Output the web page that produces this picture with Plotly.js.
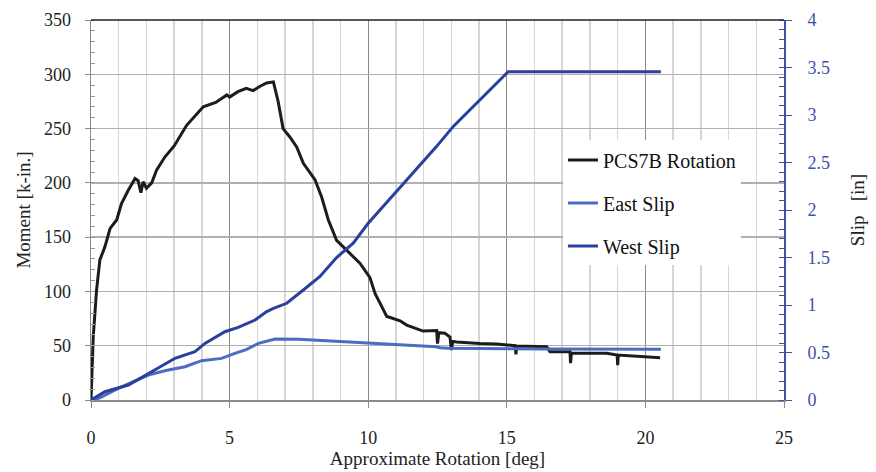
<!DOCTYPE html>
<html>
<head>
<meta charset="utf-8">
<script src="https://cdn.plot.ly/plotly-3.0.1.min.js"></script>
<style>html,body{margin:0;padding:0;background:#fff;}#chart{width:876px;height:472px;}</style>
</head>
<body>
<div id="chart"></div>
<script>
// PCS7B Rotation: moment [k-in.] vs approximate rotation [deg]
const rotX = [0, 0.08, 0.2, 0.32, 0.5, 0.69, 0.93, 1.1, 1.34, 1.59, 1.7, 1.8, 1.88, 2.0, 2.19, 2.37, 2.67, 3.0, 3.45, 4.05, 4.5, 4.9, 5.0, 5.3, 5.6, 5.85, 6.1, 6.34, 6.58, 6.75, 6.93, 7.18, 7.42, 7.66, 8.08, 8.32, 8.56, 8.86, 9.22, 9.7, 10.06, 10.25, 10.49, 10.67, 10.79, 11.15, 11.39, 11.62, 11.98, 12.47, 12.5, 12.55, 12.77, 12.95, 13.0, 13.05, 13.19, 14.03, 14.63, 15.3, 15.33, 15.36, 16.44, 16.56, 17.28, 17.3, 17.33, 17.88, 18.6, 18.98, 19.0, 19.02, 19.33, 20.53];
const rotMoment = [0, 58, 101, 129, 141, 158, 166, 181, 193, 204, 202, 191, 201, 195, 200, 212, 224, 234, 253, 270, 274, 281, 279, 284, 287, 285, 289, 292, 293, 275, 250, 242, 233, 218, 203, 187, 166, 147, 138, 126, 113, 98, 86, 77, 76, 73, 69, 67, 63.5, 64, 52, 62, 61.5, 58, 46, 54, 53.5, 52, 51.5, 50, 42, 49.7, 49, 44.5, 44.5, 34, 43, 43, 43, 41.5, 32, 41.4, 41, 39];

// East Slip [in]
const eastX = [0, 0.3, 0.98, 1.5, 2.07, 2.7, 3.39, 3.99, 4.71, 5.19, 5.6, 6.04, 6.64, 7.5, 8.44, 10.0, 10.43, 12.45, 12.6, 12.9, 16.4, 17.28, 17.4, 20.56];
const eastSlip = [0, 0.02, 0.123, 0.19, 0.263, 0.31, 0.35, 0.414, 0.438, 0.49, 0.53, 0.596, 0.642, 0.64, 0.624, 0.60, 0.597, 0.561, 0.55, 0.544, 0.537, 0.535, 0.533, 0.533];

// West Slip [in]
const westX = [0, 0.5, 1.35, 2.19, 3.03, 3.75, 4.11, 4.83, 5.31, 5.92, 6.34, 6.58, 7.06, 7.66, 8.26, 8.86, 9.46, 10.0, 10.79, 11.27, 12.47, 13.07, 14.03, 15.05, 20.56];
const westSlip = [0, 0.087, 0.158, 0.298, 0.439, 0.509, 0.596, 0.719, 0.765, 0.842, 0.93, 0.965, 1.018, 1.158, 1.30, 1.5, 1.65, 1.86, 2.12, 2.28, 2.67, 2.88, 3.16, 3.456, 3.456];

const seriesNames = ['PCS7B Rotation', 'East Slip', 'West Slip'];

const FONT = '"Liberation Serif", "Times New Roman", serif';
const BLUE_AX = '#3f51a8';

const traces = [
  {x: rotX, y: rotMoment, name: seriesNames[0], type: 'scatter', mode: 'lines', legendgroup: 'a',
   line: {color: '#1c1c1c', width: 3}, yaxis: 'y'},
  {x: eastX, y: eastSlip, name: seriesNames[1], type: 'scatter', mode: 'lines', legendgroup: 'b',
   line: {color: '#4b6cc1', width: 3}, yaxis: 'y2'},
  {x: westX, y: westSlip, name: seriesNames[2], type: 'scatter', mode: 'lines', legendgroup: 'c',
   line: {color: '#2b3f9c', width: 3}, yaxis: 'y2'}
];

const layout = {
  width: 876, height: 472,
  margin: {l: 91, r: 92, t: 20, b: 72},
  paper_bgcolor: '#ffffff', plot_bgcolor: '#ffffff',
  font: {family: FONT, size: 18, color: '#222'},
  showlegend: true,
  legend: {x: 0.681, y: 0.683, xanchor: 'left', yanchor: 'top', bgcolor: '#ffffff', borderwidth: 0,
           font: {family: FONT, size: 20, color: '#111'}, traceorder: 'grouped', tracegroupgap: 14},
  xaxis: {range: [0, 25], tick0: 0, dtick: 5, showgrid: true, gridcolor: '#8a8a8a', gridwidth: 1,
          minor: {dtick: 1, showgrid: true, gridcolor: '#d6d6d6', gridwidth: 1.5, ticks: ''},
          showline: true, linecolor: '#8a8a8a', linewidth: 1.5, ticks: 'outside', ticklen: 6, tickcolor: '#8a8a8a',
          zeroline: false, ticklabelstandoff: 15,
          tickfont: {family: FONT, size: 18, color: '#222'},
          title: {text: 'Approximate Rotation [deg]', font: {family: FONT, size: 19, color: '#222'}, standoff: 0}},
  yaxis: {range: [0, 350], tick0: 0, dtick: 50, showgrid: true, gridcolor: '#b0b0b0', gridwidth: 1.5,
          minor: {dtick: 10, ticks: 'inside', ticklen: 4, tickcolor: '#9a9a9a', showgrid: false},
          showline: true, linecolor: '#8a8a8a', linewidth: 1.5, ticks: 'outside', ticklen: 5, tickcolor: '#8a8a8a',
          zeroline: false, ticklabelstandoff: 10,
          tickfont: {family: FONT, size: 18, color: '#222'},
          title: {text: 'Moment [k-in.]', font: {family: FONT, size: 19, color: '#222'}, standoff: 8}},
  yaxis2: {range: [0, 4], tick0: 0, dtick: 0.5, overlaying: 'y', side: 'right', showgrid: false,
           minor: {dtick: 0.1, ticks: 'inside', ticklen: 5, tickcolor: BLUE_AX, showgrid: false},
           showline: true, linecolor: BLUE_AX, linewidth: 2, ticks: 'outside', ticklen: 6, tickcolor: BLUE_AX,
           zeroline: false, ticklabelstandoff: 12,
           tickfont: {family: FONT, size: 18, color: BLUE_AX},
           title: {text: 'Slip\u00a0\u00a0\u00a0[in]', font: {family: FONT, size: 19, color: '#222'}, standoff: 22}},
  shapes: [
    {type: 'line', xref: 'paper', yref: 'paper', x0: 0, x1: 1, y0: 1, y1: 1, line: {color: '#222', width: 1.5}}
  ]
};

Plotly.newPlot('chart', traces, layout, {displayModeBar: false, staticPlot: true});
</script>
</body>
</html>
